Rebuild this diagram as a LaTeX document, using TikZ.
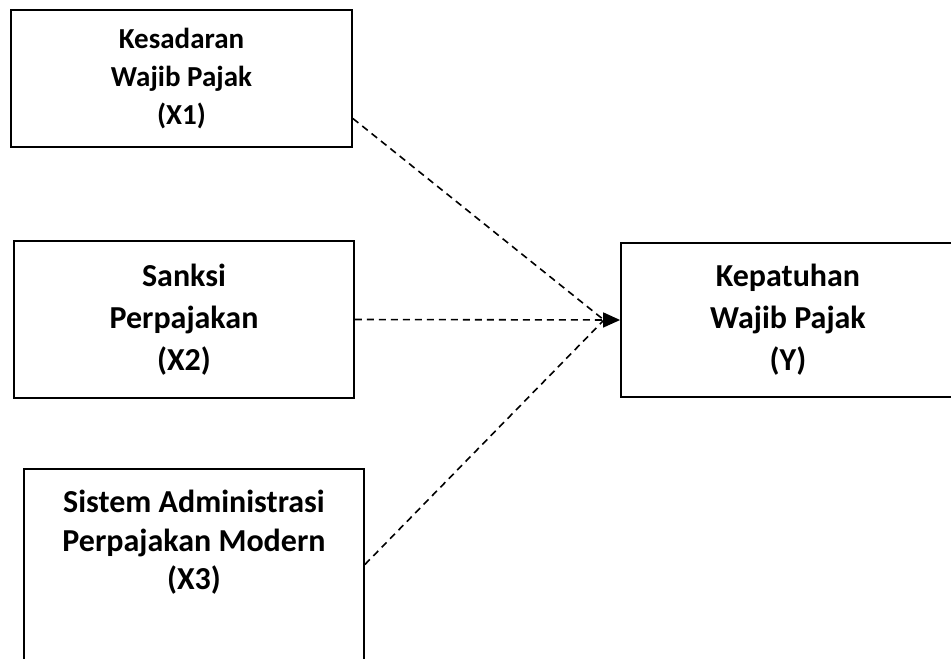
\documentclass[tikz,border=0pt]{standalone}
\usepackage{fontspec}
\setmainfont{Carlito}
\usetikzlibrary{arrows.meta}

\tikzstyle{variabel}= [rectangle,draw,black,line width=1.8pt,align=center,inner sep=0pt,font=\fontsize{32}{42}\selectfont\bfseries]
\tikzstyle{garis}= [black,line width=1.6pt,dash pattern=on 7pt off 5pt]

\begin{document}
\begin{tikzpicture}[x=1pt,y=-1pt]
		\useasboundingbox (0,0) rectangle (951,659);
		\clip (0,0) rectangle (951,659);

		\node (x1) at (181.5,78.5) [variabel,minimum width=341,minimum height=137,font=\fontsize{29}{38}\selectfont\bfseries] {Kesadaran\\Wajib Pajak\\(X1)};
		\node (x2) at (184,319.5) [variabel,minimum width=340,minimum height=157] {Sanksi\\Perpajakan\\(X2)};
		\node (x3) at (194,579.5) [variabel,minimum width=340,minimum height=221,font=\fontsize{32}{38.5}\selectfont\bfseries] {Sistem Administrasi\\Perpajakan Modern\\(X3)\\[40pt]\mbox{}};

		\node (y) at (788,320) [variabel,minimum width=334,minimum height=154] {Kepatuhan\\Wajib Pajak\\(Y)};

		\coordinate (temu) at (604,320);

		\path[garis] ([yshift=-40]x1.east) edge[] (temu);
		\path[garis] (x2.east) edge[-{Triangle[length=17pt,width=15pt]}] (y.west);
		\path[garis] ([yshift=15]x3.east) edge[] (temu);

\end{tikzpicture}
\end{document}
